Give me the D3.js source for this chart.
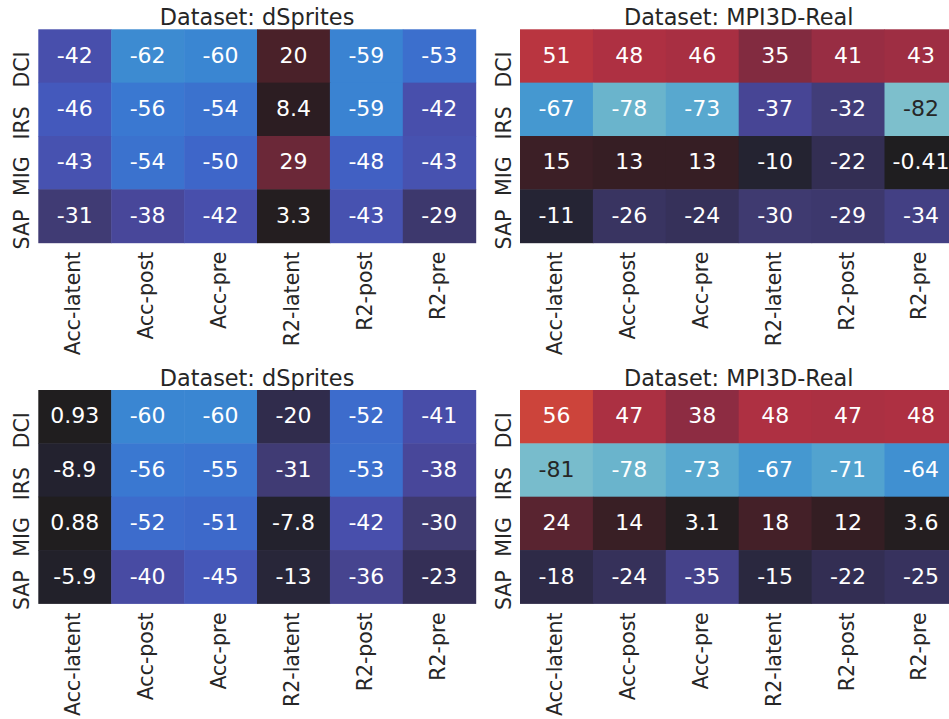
<!DOCTYPE html>
<html>
<head>
<meta charset="utf-8">
<script src="https://cdn.jsdelivr.net/npm/d3@7"></script>
<style>
  html, body { margin: 0; padding: 0; background: #fff; overflow: hidden; }
  svg { display: block; font-family: "DejaVu Sans", sans-serif; }
</style>
</head>
<body>
<svg id="chart" width="949" height="719"></svg>
<script>
// ---- data ----
const metricCols = ["Acc-latent", "Acc-post", "Acc-pre", "R2-latent", "R2-post", "R2-pre"];
const scoreRows = ["DCI", "IRS", "MIG", "SAP"];

const topTitleLeft = "Dataset: dSprites";
const topTitleRight = "Dataset: MPI3D-Real";

const dspritesTop = [
  [-42, -62, -60, 20, -59, -53],
  [-46, -56, -54, 8.4, -59, -42],
  [-43, -54, -50, 29, -48, -43],
  [-31, -38, -42, 3.3, -43, -29]
];
const mpi3dTop = [
  [51, 48, 46, 35, 41, 43],
  [-67, -78, -73, -37, -32, -82],
  [15, 13, 13, -10, -22, -0.41],
  [-11, -26, -24, -30, -29, -34]
];
const dspritesBottom = [
  [0.93, -60, -60, -20, -52, -41],
  [-8.9, -56, -55, -31, -53, -38],
  [0.88, -52, -51, -7.8, -42, -30],
  [-5.9, -40, -45, -13, -36, -23]
];
const mpi3dBottom = [
  [56, 47, 38, 48, 47, 48],
  [-81, -78, -73, -67, -71, -64],
  [24, 14, 3.1, 18, 12, 3.6],
  [-18, -24, -35, -15, -22, -25]
];

// icefire-like colormap stops (value -> colour), vmin -100, vmax 100
const cmapValues = [-100, -82, -78, -73, -67, -62, -60, -56, -50, -46, -42, -38, -31, -23, -20, -10, 0, 10, 20, 29, 35, 40, 48, 51, 56, 70, 100];
const cmapColors = ["#bde7db", "#7dbfcc", "#6ab4cc", "#58a8cf", "#4598d0", "#3d8bd1", "#3a86d2", "#3a78d1",
  "#3e66c9", "#4459bc", "#484fac", "#48479a", "#403b74", "#342f56", "#302c4c", "#242331", "#1f1e1f",
  "#2e1d22", "#4a2129", "#6b2838", "#822b40", "#952c43", "#ae3042", "#b93540", "#cc443b", "#ec6a2e", "#fdebc4"];

// ---- drawing ----
const svg = d3.select("#chart");
const color = d3.scaleLinear().domain(cmapValues).range(cmapColors).interpolate(d3.interpolateRgb).clamp(true);

function luminance(c) {
  const rgb = d3.rgb(c);
  const lin = v => { v /= 255; return v <= 0.03928 ? v / 12.92 : Math.pow((v + 0.055) / 1.055, 2.4); };
  return 0.2126 * lin(rgb.r) + 0.7152 * lin(rgb.g) + 0.0722 * lin(rgb.b);
}

const panels = [
  { title: topTitleLeft, data: dspritesTop, x0: 38.3, y0: 29.3 },
  { title: topTitleRight, data: mpi3dTop, x0: 520, y0: 29.3 },
  { title: topTitleLeft, data: dspritesBottom, x0: 38.3, y0: 390 },
  { title: topTitleRight, data: mpi3dBottom, x0: 520, y0: 390 }
];
const W = 437.4, H = 213.4;

panels.forEach(p => {
  const g = svg.append("g").attr("transform", `translate(${p.x0},${p.y0})`);
  const x = d3.scaleBand().domain(metricCols).range([0, W]).padding(0);
  const y = d3.scaleBand().domain(scoreRows).range([0, H]).padding(0);

  const cells = [];
  p.data.forEach((row, i) => row.forEach((v, j) => cells.push({ r: scoreRows[i], c: metricCols[j], v })));

  g.selectAll("rect.cell").data(cells).join("rect")
    .attr("class", "cell")
    .attr("x", d => x(d.c))
    .attr("y", d => y(d.r))
    .attr("width", x.bandwidth() + 0.5)
    .attr("height", y.bandwidth() + 0.5)
    .attr("fill", d => color(d.v));

  g.selectAll("text.annot").data(cells).join("text")
    .attr("class", "annot")
    .attr("x", d => x(d.c) + x.bandwidth() / 2)
    .attr("y", d => y(d.r) + y.bandwidth() / 2 + 6.8)
    .attr("text-anchor", "middle")
    .attr("font-size", 22)
    .attr("fill", d => luminance(color(d.v)) > 0.408 ? "#262626" : "#ffffff")
    .text(d => String(d.v));

  // title
  g.append("text")
    .attr("x", W / 2)
    .attr("y", -4.5)
    .attr("text-anchor", "middle")
    .attr("font-size", 22.4)
    .attr("fill", "#262626")
    .text(p.title);

  // x axis
  const xa = g.append("g").attr("transform", `translate(0,${H})`)
    .call(d3.axisBottom(x).tickSize(0));
  xa.select(".domain").remove();
  xa.selectAll("text")
    .attr("transform", "rotate(-90)")
    .attr("text-anchor", "end")
    .attr("x", -9)
    .attr("y", 5.5)
    .attr("dy", 0)
    .attr("font-size", 20.5)
    .attr("font-family", "DejaVu Sans")
    .attr("fill", "#262626");

  // y axis
  const ya = g.append("g").call(d3.axisLeft(y).tickSize(0));
  ya.select(".domain").remove();
  ya.selectAll("text")
    .attr("transform", "rotate(-90)")
    .attr("text-anchor", "middle")
    .attr("x", -13.5)
    .attr("y", -9.5)
    .attr("dy", 0)
    .attr("font-size", 20.5)
    .attr("font-family", "DejaVu Sans")
    .attr("fill", "#262626");
});
</script>
</body>
</html>
